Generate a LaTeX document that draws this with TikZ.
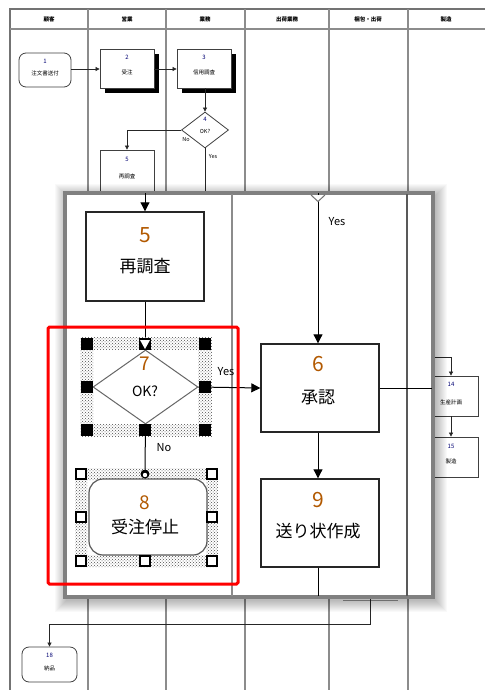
\documentclass[tikz,border=0pt]{standalone}
\usepackage{fontspec}
\setmainfont{Noto Sans CJK JP}
\usetikzlibrary{arrows.meta,patterns,shapes.geometric}
\begin{document}
\begin{tikzpicture}[x=1pt,y=-1pt,
  lane/.style={draw=black!45, line width=1.3pt},
  small/.style={font=\fontsize{5.5}{6.5}\selectfont, inner sep=0},
  snum/.style={font=\fontsize{6}{7}\selectfont, text=blue!45!black, inner sep=0},
  hdr/.style={font=\bfseries\fontsize{5.5}{6.5}\selectfont, inner sep=0},
  sbox/.style={draw=black!75, fill=white, line width=0.8pt, minimum width=54pt, minimum height=39pt, inner sep=0},
  sarrow/.style={-{Triangle[length=4pt,width=4pt]}, draw=black!85, line width=0.7pt},
  bigbox/.style={draw=black!85, fill=white, line width=1.4pt, minimum width=118pt, minimum height=88pt, inner sep=0},
  barrow/.style={-{Triangle[length=9pt,width=9pt]}, line width=1pt},
  bline/.style={line width=1pt},
  num/.style={text=orange!70!black, font=\fontsize{21}{21}\selectfont, inner sep=0},
  jtxt/.style={font=\fontsize{17}{17}\selectfont, inner sep=0},
  lbl/.style={font=\fontsize{11}{11}\selectfont, inner sep=0},
  handle/.style={fill=black, minimum size=12pt, inner sep=0},
  hhandle/.style={draw=black, fill=white, line width=1.3pt, minimum size=10pt, inner sep=0},
  hatch/.style={pattern=crosshatch dots, pattern color=black!70, even odd rule}
]
\useasboundingbox (0,0) rectangle (485,690);
\fill[white] (0,0) rectangle (485,690);

% ---------- background swimlane chart ----------
\draw[draw=black!55, line width=1.5pt] (10,690) -- (10,9) -- (485,9);
\draw[lane] (10,29) -- (485,29);
\foreach \x in {88,166,245,329,408} \draw[lane] (\x,9) -- (\x,690);
\node[hdr] (h1) at (49,19) {顧客};
\node[hdr] (h2) at (127,19) {営業};
\node[hdr] (h3) at (205,19) {業務};
\node[hdr] (h4) at (287,19) {出荷業務};
\node[hdr] (h5) at (368,19) {梱包・出荷};
\node[hdr] (h6) at (446,19) {製造};

% node 1
\node[sbox, rounded corners=7pt, minimum width=52pt, minimum height=34pt] (n1) at (45,70) {};
\node[snum] (n1n) at (45,61) {1};
\node[small] (n1t) at (45,73) {注文書送付};
% node 2
\fill[black] (105,54) rectangle (159,93);
\node[sbox] (n2) at (127,68.5) {};
\node[snum] (n2n) at (127,57) {2};
\node[small] (n2t) at (127,72) {受注};
% node 3
\fill[black] (182,54) rectangle (236,93);
\node[sbox] (n3) at (204,68.5) {};
\node[snum] (n3n) at (204,57) {3};
\node[small] (n3t) at (204,72) {信用調査};
\draw[sarrow] (n1.east |- 0,69) -- (n2.west |- 0,69);
\draw[sarrow] (n2.east |- 0,69) -- (n3.west |- 0,69);
% diamond 4
\node[diamond, draw=black!75, fill=white, line width=0.8pt, minimum width=47pt, minimum height=36pt, inner sep=0] (d4) at (205,130) {};
\node[snum] (d4n) at (205,119) {4};
\node[small] (d4t) at (205,131) {OK?};
\draw[sarrow] (n3.south -| d4) -- (d4.north);
% node 5 small
\node[sbox, minimum height=50pt] (n5) at (127,175) {};
\node[snum] (n5n) at (127,159) {5};
\node[small] (n5t) at (127,176) {再調査};
\draw[sarrow] (d4.west) -| (n5.north);
\node[small] (d4no) at (186,140) {No};
\coordinate (d4y) at (205,195);
\draw[draw=black!85, line width=0.7pt] (d4.south) -- (d4y);
\node[small] (d4yes) at (213,157) {Yes};

% nodes 14, 15
\coordinate (c14) at (420,357);
\node[sbox, minimum height=40pt] (n14) at (451,396) {};
\node[snum] (n14n) at (451,384) {14};
\node[small] (n14t) at (451,402) {生産計画};
\draw[sarrow] (c14) -| (n14.north);
\node[sbox, minimum height=40pt] (n15) at (451,457) {};
\node[snum] (n15n) at (451,446) {15};
\node[small] (n15t) at (451,461) {製造};
\draw[sarrow] (n14) -- (n15);

% bottom
\coordinate (c18) at (370,590);
\draw[black!40, line width=1pt] (343,600) -- (398,600);
\node[sbox, rounded corners=7pt, minimum width=55pt, minimum height=35pt] (n18) at (49.5,664.5) {};
\node[snum] (n18n) at (49.5,655) {18};
\node[small] (n18t) at (49.5,668) {納品};
\draw[sarrow] (c18) -- (370,624) -| (n18.north);

% ---------- zoomed panel ----------
\foreach \i in {1,...,12} \fill[black, opacity=0.022] ({65-\i+2},{193-\i+3}) rectangle ({433+\i+2},{597+\i+3});
\draw[draw=black!50, line width=3.5pt, fill=white] (65,193) rectangle (433,597);
\draw[draw=black!45, line width=1.8pt] (232,194) -- (232,596);
\draw[draw=black!65, line width=1.2pt] (407,194) -- (407,596);

% box 5
\coordinate (p5) at (145,193);
\node[bigbox, minimum height=89pt] (b5) at (145,256.5) {};
\node[num] (b5n) at (145,235) {5};
\node[jtxt] (b5t) at (145,266) {再調査};
\draw[barrow] (p5) -- (b5.north);

% diamond 7 with selection
\fill[hatch] (80,337) rectangle (212,437) (93,350) rectangle (198,424);
\node[diamond, draw=black!60, line width=1pt, minimum width=105pt, minimum height=74pt, inner sep=0] (d7) at (145.5,387) {};
\foreach \p in {(86.5,343.5),(205,343.5),(86.5,387),(205,387),(86.5,430),(145,430),(205,430)} \node[handle] at \p {};
\node[handle] (d7top) at (145,343.5) {};
\draw[bline] (b5.south) -- (d7top.north);
\fill[white] (140,340) -- (150,340) -- (145,349) -- cycle;
\node[num, font=\fontsize{19}{19}\selectfont] (d7n) at (145,364) {7};
\node[font=\fontsize{14}{14}\selectfont, inner sep=0] (d7t) at (145,391) {OK?};

% box 8 with selection
\fill[hatch] (75,468) rectangle (218,567) (87,480) rectangle (206,555);
\node[draw=black!65, fill=white, line width=1.2pt, rounded corners=14pt, minimum width=118pt, minimum height=76pt, inner sep=0] (b8) at (148,517) {};
\foreach \p in {(81,474),(212,474),(81,517),(212,517),(81,561),(145,561),(212,561)} \node[hhandle] at \p {};
\node[circle, fill=black, minimum size=9pt, inner sep=0] (b8top) at (145,474) {};
\fill[white] (145,475) circle (2.2pt);
\draw[bline] (d7.south) -- (b8top.north);
\node[lbl] (d7no) at (164,448) {No};
\node[num, font=\fontsize{19}{19}\selectfont] (b8n) at (145,503) {8};
\node[jtxt] (b8t) at (145,527) {受注停止};

% box 6
\coordinate (p6) at (318,193);
\node[bigbox] (b6) at (320,388) {};
\node[num] (b6n) at (318,364) {6};
\node[jtxt] (b6t) at (318,397) {承認};
\draw[barrow] (p6) -- (b6.north -| p6);
\draw[draw=black!55, line width=1pt, fill=white] (311,195) -- (318,201.5) -- (325,195);
\node[lbl] (p6yes) at (337,222) {Yes};
\draw[barrow] (d7.east) -- (b6.west);
\node[lbl] (d7yes) at (226,372) {Yes};
\coordinate (p6r) at (432,388);
\draw[bline] (b6.east) -- (p6r);

% box 9
\node[bigbox] (b9) at (320,523) {};
\node[num] (b9n) at (318,500) {9};
\node[jtxt] (b9t) at (318,531) {送り状作成};
\draw[barrow] (b6.south -| p6) -- (b9.north -| p6);
\coordinate (p9) at (318,596);
\draw[bline] (b9.south -| p9) -- (p9);

% red highlight
\draw[red, line width=3pt, rounded corners=1.5pt] (48,327) rectangle (238,584);
\end{tikzpicture}
\end{document}
